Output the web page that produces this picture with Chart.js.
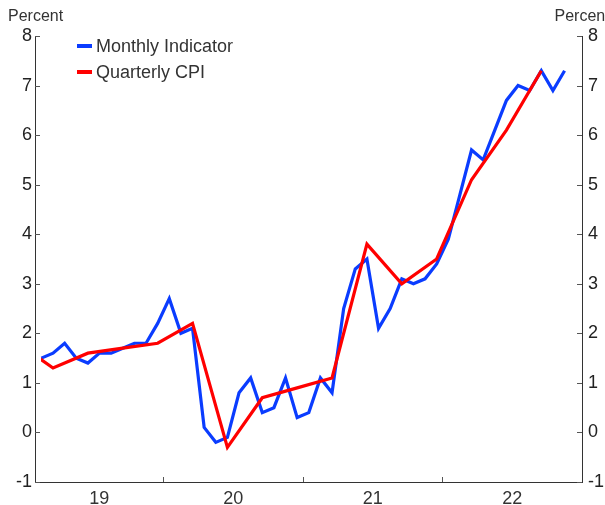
<!DOCTYPE html>
<html>
<head>
<meta charset="utf-8">
<script src="https://cdn.jsdelivr.net/npm/chart.js@4.4.1/dist/chart.umd.min.js"></script>
<style>
  html, body { margin: 0; padding: 0; background: #fff; }
  #c { display: block; }
</style>
</head>
<body>
<canvas id="c" width="605" height="505"></canvas>
<script>
// ---- Data (year-ended inflation, percent) ----
// Monthly indicator: Feb 2019 – Nov 2022
const monthlyIndicator = [
  1.5, 1.6, 1.8, 1.5, 1.4, 1.6, 1.6, 1.7, 1.8, 1.8, 2.2,        // Feb–Dec 2019
  2.7, 2.0, 2.1, 0.1, -0.2, -0.1, 0.8, 1.1, 0.4, 0.5, 1.1, 0.3, // 2020
  0.4, 1.1, 0.8, 2.5, 3.3, 3.5, 2.1, 2.5, 3.1, 3.0, 3.1, 3.4,   // 2021
  3.9, 4.8, 5.7, 5.5, 6.1, 6.7, 7.0, 6.9, 7.3, 6.9, 7.3         // Jan–Nov 2022
];
// Quarterly CPI: Dec 2018 – Sep 2022
const quarterlyCPI = [
  1.8,
  1.3, 1.6, 1.7, 1.8,
  2.2, -0.3, 0.7, 0.9,
  1.1, 3.8, 3.0, 3.5,
  5.1, 6.1, 7.3
];
const seriesNames = ['Monthly Indicator', 'Quarterly CPI'];
const yearLabels = ['19', '20', '21', '22'];
const yTickValues = [-1, 0, 1, 2, 3, 4, 5, 6, 7, 8];
const axisUnit = 'Percent';

// x values are months counted from Jan 2019 (0 = Jan 2019)
const monthlyStart = 1;   // Feb 2019
const quarterlyStart = -1; // Dec 2018
const xMin = 0.45, xMax = 47.5;

const monthlyPts = monthlyIndicator.map((v, i) => ({ x: monthlyStart + i, y: v }));
const quarterlyPts = quarterlyCPI.map((v, i) => ({ x: quarterlyStart + 3 * i, y: v }));

// year label positions: centre of the visible part of each calendar year
const yearCentres = yearLabels.map((_, i) => {
  const s = Math.max(12 * i - 0.5, xMin), e = Math.min(12 * i + 11.5, xMax);
  return (s + e) / 2;
});
const yearBounds = [11.5, 23.5, 35.5];

const FONT = 'Liberation Sans, Arial, sans-serif';

const framePlugin = {
  id: 'frame',
  afterDatasetsDraw(chart) {
    const { ctx, chartArea: a, scales } = chart;
    ctx.save();
    ctx.strokeStyle = '#555';
    ctx.lineWidth = 1;
    const yl = scales.y, x = scales.x;
    yTickValues.forEach(v => {
      const py = Math.round(yl.getPixelForValue(v)) + 0.5;
      ctx.beginPath();
      ctx.moveTo(a.left, py); ctx.lineTo(a.left + 5, py);
      ctx.moveTo(a.right, py); ctx.lineTo(a.right - 5, py);
      ctx.stroke();
    });
    yearBounds.forEach(m => {
      const px = Math.round(x.getPixelForValue(m)) + 0.5;
      ctx.beginPath();
      ctx.moveTo(px, a.bottom); ctx.lineTo(px, a.bottom - 5);
      ctx.stroke();
    });
    // unit labels
    ctx.fillStyle = '#333';
    ctx.font = '16px ' + FONT;
    ctx.textBaseline = 'middle';
    ctx.textAlign = 'left';
    ctx.fillText(axisUnit, 8, 17);
    ctx.fillText(axisUnit, 554.5, 17);
    // legend
    ctx.font = '18px ' + FONT;
    chart.data.datasets.forEach((ds, i) => {
      const cy = 46 + i * 26;
      ctx.fillStyle = ds.borderColor;
      ctx.fillRect(77, cy - 2, 15, 4);
      ctx.fillStyle = '#333';
      ctx.fillText(ds.label, 96, cy + 1);
    });
    ctx.restore();
  }
};

new Chart(document.getElementById('c'), {
  type: 'line',
  data: {
    datasets: [
      {
        label: seriesNames[0], data: monthlyPts,
        borderColor: '#0a3cff', borderWidth: 3.2, pointRadius: 0,
        tension: 0, order: 2
      },
      {
        label: seriesNames[1], data: quarterlyPts,
        borderColor: '#ff0000', borderWidth: 3.2, pointRadius: 0,
        tension: 0, order: 1,
        clip: { left: -6, top: false, right: false, bottom: false }
      }
    ]
  },
  options: {
    responsive: false,
    animation: false,
    events: [],
    layout: { padding: { top: 36, left: 0, right: 0, bottom: 0 } },
    plugins: { legend: { display: false }, tooltip: { enabled: false } },
    scales: {
      x: {
        type: 'linear', min: xMin, max: xMax,
        afterBuildTicks(s) { s.ticks = yearCentres.map(v => ({ value: v })); },
        afterFit(s) { s.height = 23; },
        grid: { display: false, drawTicks: false },
        border: { display: true, color: '#333', width: 1 },
        ticks: {
          autoSkip: false, maxRotation: 0, padding: 6,
          color: '#333', font: { family: FONT, size: 18 },
          callback(v) {
            const i = yearCentres.findIndex(c => Math.abs(c - v) < 1e-6);
            return i >= 0 ? yearLabels[i] : '';
          }
        }
      },
      y: {
        position: 'left', min: -1, max: 8,
        afterBuildTicks(s) { s.ticks = yTickValues.map(v => ({ value: v })); },
        afterFit(s) { s.width = 35; },
        grid: { display: false, drawTicks: false },
        border: { display: true, color: '#333', width: 1 },
        ticks: { padding: 3, color: '#222', font: { family: FONT, size: 18 } }
      },
      y2: {
        position: 'right', min: -1, max: 8,
        afterBuildTicks(s) { s.ticks = yTickValues.map(v => ({ value: v })); },
        afterFit(s) { s.width = 23; },
        grid: { display: false, drawTicks: false },
        border: { display: true, color: '#333', width: 1 },
        ticks: { padding: 6, color: '#222', font: { family: FONT, size: 18 } }
      }
    }
  },
  plugins: [framePlugin]
});
</script>
</body>
</html>
